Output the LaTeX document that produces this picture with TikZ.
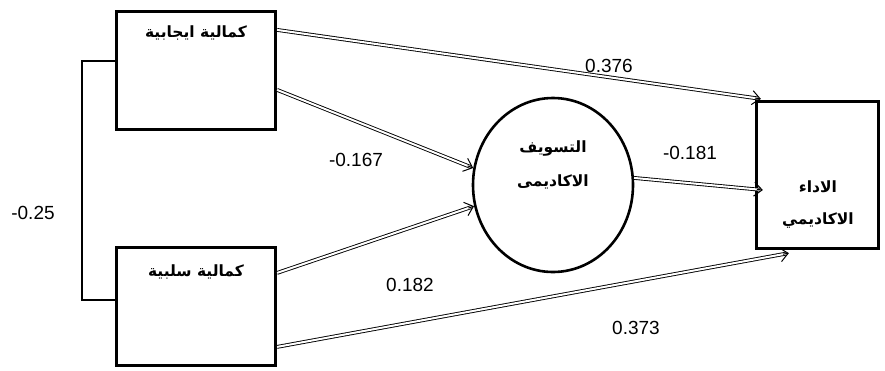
\documentclass[tikz,border=0pt]{standalone}
\usepackage{fontspec}
\setmainfont{Liberation Sans}
\newfontfamily\arabicfont[Script=Arabic]{DejaVu Sans}
\TeXXeTstate=1
\usetikzlibrary{arrows.meta,calc,shapes.geometric}
\begin{document}
\begin{tikzpicture}[x=1pt,y=-1pt,
  box/.style={draw, line width=3.2pt, inner sep=0pt},
  ar/.style={font=\arabicfont\bfseries\fontsize{15.5}{18}\selectfont, inner sep=1pt},
  num/.style={font=\fontsize{19}{22}\selectfont, inner sep=1pt},
  dbl/.style={double, double distance=2pt, line width=0.9pt, shorten >=3pt},
  head/.style={line width=1pt, -{Straight Barb[length=8pt,width=14pt]}},
]
\useasboundingbox (0,0) rectangle (885,370);
\node[box, minimum width=159pt, minimum height=118pt] (b1) at (196,70.5) {};
\node[box, minimum width=159pt, minimum height=118pt] (b2) at (196,306.5) {};
\node[box, minimum width=122pt, minimum height=147pt] (b3) at (817.5,175) {};
\node[draw, ellipse, line width=2.6pt, minimum width=160pt, minimum height=174pt, inner sep=0pt] (c) at (553,185) {};

\node[ar] (t1) at (196,33) {\beginR كمالية ايجابية\endR};
\node[ar] (t2) at (196,272) {\beginR كمالية سلبية\endR};
\node[ar] (t3) at (553,148) {\beginR التسويف\endR};
\node[ar] (t4) at (553,182) {\beginR الاكاديمى\endR};
\node[ar] (t5) at (818,187) {\beginR الاداء\endR};
\node[ar] (t6) at (818,220) {\beginR الاكاديمي\endR};

\coordinate (s1) at ($(b1.north east)+(0,20)$);
\coordinate (s2) at ($(b1.north east)+(0,80)$);
\coordinate (s3) at ($(b2.north east)+(0,27)$);
\coordinate (s4) at ($(b2.north east)+(0,101)$);
\coordinate (e1) at ($(b3.north west)+(6,-1)$);
\coordinate (e5) at ($(b3.west)+(8,15)$);
\coordinate (e4) at ($(b3.south west)+(34,3)$);
\coordinate (e2) at (c.168);
\coordinate (e3) at (c.195);
\coordinate (s5) at (c.5);

\draw[dbl] (s1) -- (e1);
\draw[head] ($(e1)!6pt!(s1)$) -- (e1);
\draw[dbl] (s2) -- (e2);
\draw[head] ($(e2)!6pt!(s2)$) -- (e2);
\draw[dbl] (s3) -- (e3);
\draw[head] ($(e3)!6pt!(s3)$) -- (e3);
\draw[dbl] (s4) -- (e4);
\draw[head] ($(e4)!6pt!(s4)$) -- (e4);
\draw[dbl] (s5) -- (e5);
\draw[head] ($(e5)!6pt!(s5)$) -- (e5);

\coordinate (k1) at ($(b1.west)+(0,-9.5)$);
\coordinate (k2) at ($(b2.west)+(0,-6.5)$);
\draw[line width=1.2pt] (k1) -- ++(-33,0) |- (k2);

\node[num] (l0) at (33,213) {-0.25};
\node[num] (l1) at (609,66) {0.376};
\node[num] (l2) at (356,160) {-0.167};
\node[num] (l3) at (690,153) {-0.181};
\node[num] (l4) at (410,285) {0.182};
\node[num] (l5) at (636,328) {0.373};
\end{tikzpicture}
\end{document}
